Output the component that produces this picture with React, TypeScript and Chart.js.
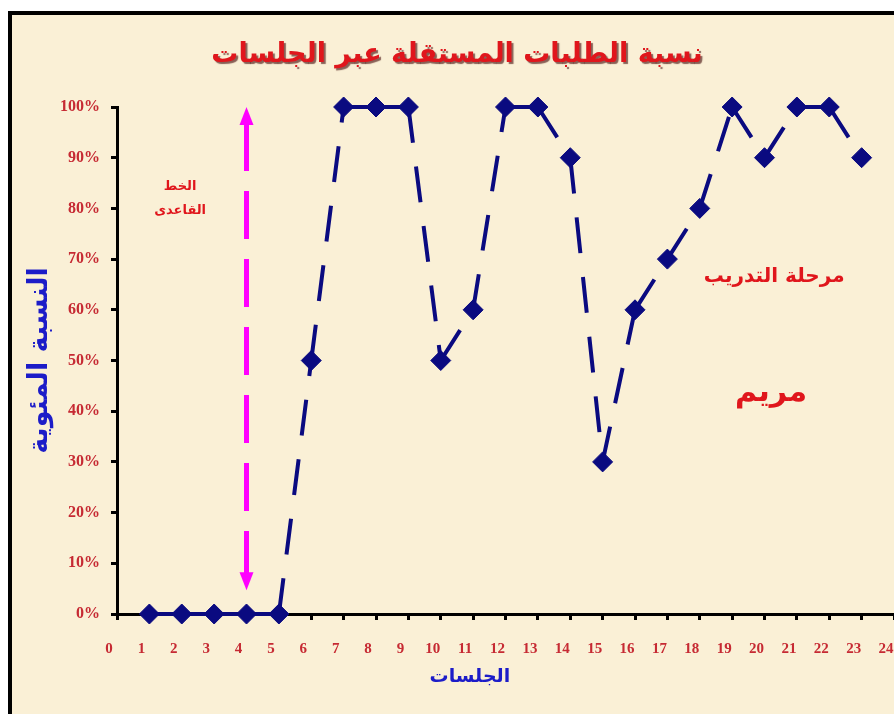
import React, { useEffect, useRef } from 'react';
import { Chart, registerables } from 'chart.js';

Chart.register(...registerables);

// ---- data ----
const sessions = [1, 2, 3, 4, 5, 6, 7, 8, 9, 10, 11, 12, 13, 14, 15, 16, 17, 18, 19, 20, 21, 22, 23];
const independentPercent = [0, 0, 0, 0, 0, 50, 100, 100, 100, 50, 60, 100, 100, 90, 30, 60, 70, 80, 100, 90, 100, 100, 90];
const xTickLabels = ['0', '1', '2', '3', '4', '5', '6', '7', '8', '9', '10', '11', '12', '13', '14', '15', '16', '17', '18', '19', '20', '21', '22', '23', '24'];
const yTickLabels = ['0%', '10%', '20%', '30%', '40%', '50%', '60%', '70%', '80%', '90%', '100%'];

const chartTitle = 'نسبة الطلبات المستقلة عبر الجلسات';
const xAxisTitle = 'الجلسات';
const yAxisTitle = 'النسبة المئوية';
const baselineLines = ['الخط', 'القاعدى'];
const trainingLabel = 'مرحلة التدريب';
const studentName = 'مريم';

// phase change line (session value, percent range)
const phaseChangeSession = 4;
const phaseLineFrom = 4.7;
const phaseLineTo = 100;

// annotation anchors in data units [session, percent]
const baselineAnchor = [1.95, 84.3];
const trainingAnchor = [20.3, 66.5];
const nameAnchor = [20.2, 43.5];
const xTitleAnchor = 10.9;

const ARABIC_FONT = '"DejaVu Sans", "Noto Sans", sans-serif';
const SERIF_FONT = '"Liberation Serif", "DejaVu Serif", serif';
const RED = '#E0161C';
const TICK_RED = '#C62A33';
const BLUE = '#1C1CC8';
const NAVY = '#0A0A80';
const MAGENTA = '#FF00FF';

const decorPlugin = {
  id: 'decor',
  afterDraw(chart: any) {
    const { ctx } = chart;
    const x = chart.scales.x;
    const y = chart.scales.y;
    ctx.save();

    // title with shadow
    ctx.font = `bold 27px ${ARABIC_FONT}`;
    ctx.textAlign = 'center';
    ctx.textBaseline = 'middle';
    ctx.shadowColor = 'rgba(60,0,0,0.6)';
    ctx.shadowOffsetX = 2;
    ctx.shadowOffsetY = 2;
    ctx.shadowBlur = 1;
    ctx.fillStyle = RED;
    ctx.fillText(chartTitle, 445, 40);
    ctx.shadowColor = 'transparent';
    ctx.shadowOffsetX = 0;
    ctx.shadowOffsetY = 0;
    ctx.shadowBlur = 0;

    // x axis title
    ctx.fillStyle = BLUE;
    ctx.font = `bold 19px ${ARABIC_FONT}`;
    ctx.fillText(xAxisTitle, x.getPixelForValue(xTitleAnchor), x.bottom - 17);

    // phase change dashed arrow
    const px = x.getPixelForValue(phaseChangeSession);
    const yTop = y.getPixelForValue(phaseLineTo);
    const yBot = y.getPixelForValue(phaseLineFrom);
    const head = 18;
    const hw = 7;
    ctx.strokeStyle = MAGENTA;
    ctx.lineWidth = 5;
    ctx.setLineDash([48, 20]);
    ctx.beginPath();
    ctx.moveTo(px, yTop + head - 2);
    ctx.lineTo(px, yBot - head + 2);
    ctx.stroke();
    ctx.setLineDash([]);
    ctx.fillStyle = MAGENTA;
    ctx.beginPath();
    ctx.moveTo(px, yTop);
    ctx.lineTo(px - hw, yTop + head);
    ctx.lineTo(px + hw, yTop + head);
    ctx.closePath();
    ctx.fill();
    ctx.beginPath();
    ctx.moveTo(px, yBot);
    ctx.lineTo(px - hw, yBot - head);
    ctx.lineTo(px + hw, yBot - head);
    ctx.closePath();
    ctx.fill();

    // annotations
    ctx.fillStyle = RED;
    ctx.textAlign = 'center';
    ctx.textBaseline = 'middle';
    ctx.font = `bold 13px ${ARABIC_FONT}`;
    const bx = x.getPixelForValue(baselineAnchor[0]);
    const by = y.getPixelForValue(baselineAnchor[1]);
    baselineLines.forEach((line, i) => ctx.fillText(line, bx, by + i * 24));

    ctx.font = `bold 20px ${ARABIC_FONT}`;
    ctx.fillText(trainingLabel, x.getPixelForValue(trainingAnchor[0]), y.getPixelForValue(trainingAnchor[1]));

    ctx.font = `bold 30px ${ARABIC_FONT}`;
    ctx.fillText(studentName, x.getPixelForValue(nameAnchor[0]), y.getPixelForValue(nameAnchor[1]));

    ctx.restore();
  },
};

export default function App() {
  const canvasRef = useRef<HTMLCanvasElement | null>(null);

  useEffect(() => {
    const canvas = canvasRef.current;
    if (!canvas) return;
    const chart = new Chart(canvas, {
      type: 'line',
      data: {
        datasets: [
          {
            data: sessions.map((s, i) => ({ x: s, y: independentPercent[i] })),
            borderColor: NAVY,
            backgroundColor: NAVY,
            borderWidth: 4,
            borderDash: [36, 24],
            pointStyle: 'rectRot',
            pointRadius: 10,
            pointBorderWidth: 1,
            pointBackgroundColor: NAVY,
            pointBorderColor: NAVY,
            tension: 0,
            fill: false,
            clip: false,
            segment: {
              // split every segment so that each restarts its dash pattern
              borderDashOffset: (c: any) => (c.p0DataIndex % 2 ? 0.001 : 0),
            },
          },
        ],
      },
      options: {
        responsive: false,
        animation: false,
        devicePixelRatio: 1,
        layout: { padding: { top: 92, left: 0, right: 28, bottom: 21 } },
        plugins: {
          legend: { display: false },
          title: { display: false },
          tooltip: { enabled: false },
        },
        scales: {
          x: {
            type: 'linear',
            min: 0,
            max: 24,
            afterFit: (s: any) => {
              s.height = 80;
            },
            ticks: {
              stepSize: 1,
              autoSkip: false,
              maxRotation: 0,
              padding: 20,
              labelOffset: -8,
              color: TICK_RED,
              font: { family: SERIF_FONT, size: 15, weight: 'bold' },
              callback: (v: any) => xTickLabels[Number(v)] ?? '',
            },
            grid: {
              drawOnChartArea: false,
              drawTicks: true,
              tickLength: 6,
              tickWidth: 3,
              tickColor: '#000',
            },
            border: { display: true, color: '#000', width: 3 },
            title: { display: false },
          },
          y: {
            type: 'linear',
            min: 0,
            max: 100,
            afterFit: (s: any) => {
              s.width = 105;
            },
            ticks: {
              stepSize: 10,
              padding: 11,
              color: TICK_RED,
              font: { family: SERIF_FONT, size: 16, weight: 'bold' },
              callback: (v: any) => yTickLabels[Math.round(Number(v) / 10)] ?? '',
            },
            grid: {
              drawOnChartArea: false,
              drawTicks: true,
              tickLength: 6,
              tickWidth: 3,
              tickColor: '#000',
            },
            border: { display: true, color: '#000', width: 3 },
            title: {
              display: true,
              text: yAxisTitle,
              color: BLUE,
              font: { family: ARABIC_FONT, size: 27, weight: 'bold' },
              padding: { top: 12, bottom: 0 },
            },
          },
        },
      } as any,
      plugins: [decorPlugin],
    });
    return () => chart.destroy();
  }, []);

  return (
    <div style={{ position: 'fixed', left: 0, top: 0, width: 894, height: 714, overflow: 'hidden', background: '#fff' }}>
      <div
        style={{
          position: 'absolute',
          left: 8,
          top: 11,
          width: 920,
          height: 720,
          border: '4px solid #000',
          background: '#FAF0D6',
        }}
      >
        <canvas ref={canvasRef} width={910} height={700} style={{ display: 'block' }} />
      </div>
    </div>
  );
}
